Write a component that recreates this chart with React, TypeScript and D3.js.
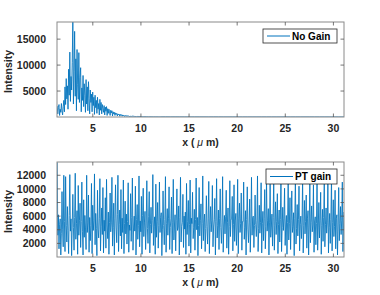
import React from 'react'
import * as d3 from 'd3'

// sample grid along x (µm)
const X_START = 1.3
const FINE_STEP = 0.0625
const COARSE_STEP = 0.5

// intensity without gain: finely sampled part (1.3 .. 12 µm)
const noGain = [
  2100, 600, 1800, 2400, 300, 1500, 900, 2600, 1200, 400, 2000, 3200,
  1000, 5800, 2400, 7400, 3500, 6000, 1500, 9200, 4200, 12500, 3000, 7800,
  5200, 10500, 18300, 2500, 8800, 16500, 4000, 11200, 1200, 13000, 6200, 3400,
  12400, 2800, 7600, 9500, 1000, 5600, 3200, 8000, 2000, 6400, 4200, 900,
  7200, 2500, 5800, 1200, 6800, 3600, 600, 5200, 2800, 4400, 1000, 4800,
  2200, 3800, 500, 4200, 1800, 3200, 700, 3800, 1500, 2600, 400, 3400,
  1300, 2800, 600, 2400, 1600, 900, 2200, 400, 1900, 1100, 2000, 300,
  1600, 700, 1500, 1000, 300, 1300, 800, 1200, 200, 1000, 600, 900,
  300, 800, 500, 700, 200, 600, 400, 550, 150, 500, 300, 450,
  150, 400, 250, 350, 100, 300, 200, 280, 80, 250, 150, 220,
  80, 200, 120, 180, 60, 160, 100, 140, 50, 130, 90, 120,
  40, 110, 70, 100, 40, 90, 60, 80, 30, 75, 50, 70,
  30, 60, 45, 55, 25, 50, 40, 45, 20, 40, 35, 40,
  20, 35, 30, 35, 15, 30, 25, 30, 15, 25, 20, 25, 10, 20, 15, 20,
]
// the flat tail after that, sampled coarsely
const noGainTail = [
  15, 20, 10, 15, 12, 10, 8, 12, 10, 8, 6, 10, 8, 6, 5, 8, 6, 5, 4, 6,
  5, 4, 3, 5, 4, 3, 3, 4, 3, 2, 3, 3, 2, 2, 3, 2, 2, 2, 1, 2,
]

// intensity with PT gain, finely sampled over the whole range
const ptGain = [
  13900, 3200, 6200, 1200, 4800, 5600, 300, 3500, 9600, 4100, 1500, 12000,
  5200, 800, 11800, 4600, 2200, 7400, 3900, 500, 6100, 12100, 3800, 5600,
  200, 4700, 9200, 4300, 1000, 5800, 12300, 2600, 4900, 6800, 400, 10500,
  3200, 5400, 7900, 1400, 5200, 11000, 3700, 300, 8400, 2900, 6100, 4400,
  1100, 12000, 3600, 5000, 9100, 700, 5800, 2400, 4600, 10800, 500, 7600,
  3900, 5300, 12200, 1800, 6400, 4200, 200, 9800, 4100, 2800, 5700, 11500,
  900, 4500, 7200, 3300, 10200, 600, 5400, 3800, 8700, 1300, 11400, 4700,
  2700, 6600, 400, 5100, 9400, 3700, 5000, 11700, 1600, 4300, 7900, 300,
  5600, 10600, 4400, 2100, 6200, 12000, 800, 4800, 6900, 3100, 9900, 1200,
  5700, 3600, 11300, 500, 4900, 8200, 3400, 6300, 1900, 5200, 10900, 700,
  4700, 3900, 9300, 2300, 5800, 11600, 1000, 4400, 6000, 3800, 10400, 300,
  5500, 7700, 2600, 4600, 11900, 1500, 5300, 3700, 8900, 400, 6100, 10100,
  3000, 5000, 6700, 1100, 4400, 11200, 4200, 2000, 5900, 9600, 600, 4800,
  7300, 3500, 5400, 12100, 1700, 4500, 5900, 400, 10700, 2900, 5200, 8000,
  1300, 4600, 11000, 3600, 5800, 6500, 200, 4100, 9700, 4600, 1800, 5500,
  11800, 700, 4900, 7100, 3200, 5600, 10300, 1100, 4300, 5600, 8800, 500,
  5000, 11400, 2500, 4700, 6200, 900, 5300, 10000, 3900, 4400, 7500, 300,
  5800, 11700, 2200, 4500, 5100, 9200, 1400, 6000, 4100, 6600, 400, 10800,
  3300, 5200, 8300, 1600, 4800, 11300, 600, 5700, 4900, 9500, 2700, 4300,
  7000, 1000, 5500, 11600, 4000, 5800, 200, 4600, 10200, 3100, 5400, 7800,
  1200, 4900, 11900, 2400, 5100, 6300, 800, 4200, 9000, 4500, 1900, 5600,
  11100, 500, 4800, 7400, 3700, 5300, 10500, 1500, 4400, 5500, 8600, 300,
  5200, 11500, 2800, 4600, 6900, 1100, 5700, 10000, 4300, 2000, 5000, 11800,
  700, 4700, 6100, 3400, 5900, 9800, 1300, 5100, 7200, 400, 4500, 11200,
  3000, 5400, 5700, 8900, 900, 4800, 10600, 2300, 5300, 6400, 1700, 4400,
  11400, 500, 5600, 7900, 3600, 4900, 9400, 1000, 5200, 5200, 11000, 2600,
  4300, 6800, 300, 5500, 10300, 4100, 2100, 5000, 8500, 700, 4700, 11700,
  3200, 5800, 6000, 1400, 4600, 9100, 4800, 3000, 5300, 11900, 800, 4200,
  7600, 3500, 5100, 10900, 600, 4900, 6700, 2400, 5700, 9900, 1200, 4500,
  11300, 3800, 5400, 7100, 300, 5000, 10700, 2900, 4400, 6300, 1600, 5800,
  11600, 1000, 4600, 8100, 3300, 5200, 9300, 500, 4800, 6900, 2200, 5500,
  12000, 800, 4300, 7300, 3900, 5600, 10100, 1700, 4700, 6100, 400, 5100,
  11100, 2500, 4900, 8700, 1100, 5300, 9700, 3600, 4500, 6500, 200, 5700,
  11800, 1900, 4200, 7700, 3100, 5500, 10400, 900, 4800, 6000, 2700, 5000,
  11500, 600, 4600, 8300, 3400, 5200, 9100, 1300, 5600, 6800, 300, 4400,
  11200, 2100, 5100, 7500, 3700, 4700, 10600, 700, 5300, 5900, 1800, 4900,
  11900, 1000, 4400, 8000, 2800, 5400, 9500, 400, 4600, 7000, 2300, 5800,
  10900, 1500, 4800, 7200, 3500, 5000, 11300, 600, 4300, 6400, 2000, 5500,
  11700, 900, 5100, 8400, 3000, 4500, 9800, 1200, 5700, 6200, 300, 4700,
  10200, 2400, 4900, 7400, 3300, 5300, 11000, 800, 4400, 6600, 2600, 3000,
]

const xTicks = [5, 10, 15, 20, 25, 30]
const topYTicks = [5000, 10000, 15000]
const bottomYTicks = [2000, 4000, 6000, 8000, 10000, 12000]

const W = 380
const H = 295
const LEFT = 57
const RIGHT = 344
const BLUE = '#0072bd'
const FONT = 'Liberation Sans, Arial, Helvetica, sans-serif'

// turn sampled arrays into [x, y] points
function samples(values, start, step) {
  return values.map((v, i) => [start + i * step, v])
}

const noGainPts = [
  ...samples(noGain, X_START, FINE_STEP),
  ...samples(noGainTail, X_START + noGain.length * FINE_STEP, COARSE_STEP),
]
const ptGainPts = samples(ptGain, X_START, FINE_STEP)

function Panel({ points, yMax, yTicks, top, bottom, legend, legendBox, id }) {
  const x = d3.scaleLinear().domain([1.28, 31.1]).range([LEFT, RIGHT])
  const y = d3.scaleLinear().domain([0, yMax]).range([bottom, top])
  const line = d3
    .line()
    .x(d => x(d[0]))
    .y(d => y(d[1]))
  const tick = 3.5
  const [lx0, ly0, lx1, ly1] = legendBox
  const lyMid = (ly0 + ly1) / 2

  return (
    <g>
      <defs>
        <clipPath id={id}>
          <rect x={LEFT} y={top} width={RIGHT - LEFT} height={bottom - top} />
        </clipPath>
      </defs>
      <rect x={LEFT} y={top} width={RIGHT - LEFT} height={bottom - top} fill="#fff" />
      <path
        d={line(points)}
        fill="none"
        stroke={BLUE}
        strokeWidth={0.85}
        clipPath={`url(#${id})`}
      />
      {/* box */}
      <rect
        x={LEFT}
        y={top}
        width={RIGHT - LEFT}
        height={bottom - top}
        fill="none"
        stroke="#8a8a8a"
        strokeWidth={1}
      />
      {xTicks.map(t => (
        <g key={t}>
          <line x1={x(t)} x2={x(t)} y1={bottom} y2={bottom - tick} stroke="#555" strokeWidth={0.8} />
          <line x1={x(t)} x2={x(t)} y1={top} y2={top + tick} stroke="#555" strokeWidth={0.8} />
          <text
            x={x(t)}
            y={bottom + 15}
            textAnchor="middle"
            fontSize={10.5}
            fontWeight="bold"
            fill="#262626"
          >
            {t}
          </text>
        </g>
      ))}
      {yTicks.map(t => (
        <g key={t}>
          <line x1={LEFT} x2={LEFT + tick} y1={y(t)} y2={y(t)} stroke="#555" strokeWidth={0.8} />
          <line x1={RIGHT} x2={RIGHT - tick} y1={y(t)} y2={y(t)} stroke="#555" strokeWidth={0.8} />
          <text
            x={LEFT - 11}
            y={y(t)}
            dy="0.35em"
            textAnchor="end"
            fontSize={10.5}
            fontWeight="bold"
            fill="#262626"
          >
            {t}
          </text>
        </g>
      ))}
      <text
        x={(LEFT + RIGHT) / 2}
        y={bottom + 29}
        textAnchor="middle"
        fontSize={10.5}
        fontWeight="bold"
        fill="#262626"
      >
        {'x ( '}
        <tspan fontStyle="italic" fontWeight="normal">μ</tspan>
        {' m)'}
      </text>
      <text
        transform={`translate(12,${(top + bottom) / 2 + 2}) rotate(-90)`}
        textAnchor="middle"
        fontSize={10.5}
        fontWeight="bold"
        fill="#262626"
      >
        Intensity
      </text>
      {/* legend */}
      <rect x={lx0} y={ly0} width={lx1 - lx0} height={ly1 - ly0} fill="#fff" stroke="#262626" strokeWidth={0.8} />
      <line x1={lx0 + 4} x2={lx0 + 27} y1={lyMid} y2={lyMid} stroke={BLUE} strokeWidth={1} />
      <text x={lx0 + 29} y={lyMid} dy="0.35em" fontSize={10} fontWeight="bold" fill="#000">
        {legend}
      </text>
    </g>
  )
}

export default function App() {
  return (
    <svg
      width={W}
      height={H}
      style={{ position: 'absolute', left: 0, top: 0, fontFamily: FONT, background: '#fff' }}
    >
      <Panel
        id="clip-top"
        points={noGainPts}
        yMax={18300}
        yTicks={topYTicks}
        top={22}
        bottom={117}
        legend="No Gain"
        legendBox={[263, 29, 337, 43]}
      />
      <Panel
        id="clip-bottom"
        points={ptGainPts}
        yMax={13950}
        yTicks={bottomYTicks}
        top={162}
        bottom={257}
        legend="PT gain"
        legendBox={[266, 169, 337, 184]}
      />
    </svg>
  )
}
